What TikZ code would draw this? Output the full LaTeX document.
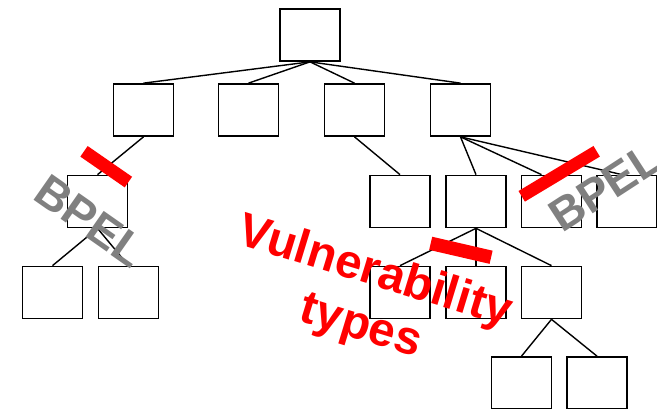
\documentclass[tikz,border=0pt]{standalone}
\usepackage{fontspec}
\setmainfont{Liberation Sans}
\begin{document}
\begin{tikzpicture}[x=1pt,y=-1pt,
  tbox/.style={draw, line width=1.7pt, minimum width=60pt, minimum height=52pt, inner sep=0pt},
  link/.style={line width=1.4pt},
  bar/.style={fill=red, inner sep=0pt},
  tag/.style={font=\fontsize{46}{46}\selectfont\bfseries, text=gray, inner sep=0pt},
  vt/.style={font=\fontsize{47.5}{47.5}\selectfont\bfseries, text=red, inner sep=0pt}]
\useasboundingbox (0,0) rectangle (657,409);

% tree boxes
\node[tbox] (root) at (310,35) {};
\node[tbox] (a1) at (143.5,110) {};
\node[tbox] (a2) at (248.5,110) {};
\node[tbox] (a3) at (354.5,110) {};
\node[tbox] (a4) at (460.5,110) {};
\node[tbox] (b1) at (97.5,201.5) {};
\node[tbox] (c1) at (52.5,292.5) {};
\node[tbox] (c2) at (128.5,292.5) {};
\node[tbox] (d1) at (400,201.5) {};
\node[tbox] (d2) at (476,201.5) {};
\node[tbox] (d3) at (551.5,201.5) {};
\node[tbox] (d4) at (627,201.5) {};
\node[tbox] (e1) at (400,292.5) {};
\node[tbox] (e2) at (476,292.5) {};
\node[tbox] (e3) at (551.5,292.5) {};
\node[tbox] (f1) at (521.5,383) {};
\node[tbox] (f2) at (597,383) {};

% tree edges
\foreach \c in {a1,a2,a3,a4} \draw[link] (root.south) -- (\c.north);
\draw[link] (a1.south) -- (b1.north);
\draw[link] (b1.south) -- (c1.north);
\draw[link] (b1.south) -- (c2.north);
\draw[link] (a3.south) -- (d1.north);
\draw[link] (a4.south) -- (d2.north);
\draw[link] (a4.south) -- ([xshift=-10pt]d3.north);
\draw[link] (a4.south) -- ([xshift=-5pt]d4.north);
\foreach \c in {e1,e2,e3} \draw[link] (d2.south) -- (\c.north);
\draw[link] (e3.south) -- (f1.north);
\draw[link] (e3.south) -- (f2.north);

% cut marks
\node[bar, minimum width=54pt, minimum height=12.9pt, rotate=-34.7] (cut1) at (106.2,166.7) {};
\node[bar, minimum width=87.5pt, minimum height=12.4pt, rotate=31] (cut2) at (559.2,173.8) {};
\node[bar, minimum width=62pt, minimum height=13.5pt, rotate=-13] (cut3) at (460.9,250.3) {};

% labels
\node[tag, rotate=-35, anchor=base] (bpel1) at (81.4,234) {BPEL};
\node[tag, rotate=33, anchor=base] (bpel2) at (613.6,200.5) {BPEL};
\node[vt, rotate=-17, anchor=base] (vul) at (371,285) {Vulnerability};
\node[vt, rotate=-17, anchor=base] (typ) at (357,339) {types};
\end{tikzpicture}
\end{document}
